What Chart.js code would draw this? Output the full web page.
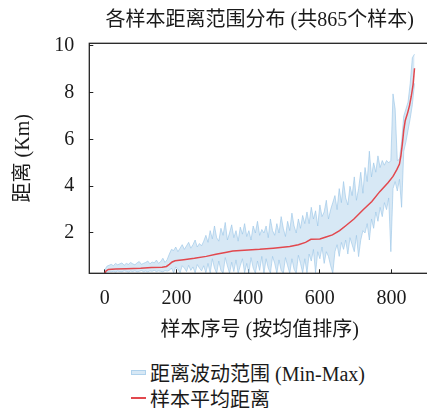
<!DOCTYPE html>
<html lang="zh">
<head>
<meta charset="UTF-8">
<title>各样本距离范围分布</title>
<script src="https://cdn.jsdelivr.net/npm/chart.js"></script>
<style>
    html, body { margin: 0; padding: 0; background: #fff; overflow: hidden; }
    #wrap { position: relative; width: 427px; height: 408px; overflow: hidden; }
    #chart { position: absolute; left: 0; top: 0; }
    #legend {
        position: absolute; left: 131px; top: 359px;
        font: 20px 'Liberation Serif', 'Noto Sans CJK SC', serif;
        color: #1a1a1a;
    }
    #legend .row { display: flex; align-items: center; height: 26px; white-space: nowrap; }
    #legend .mark { width: 15px; margin-right: 4px; }
</style>
</head>
<body>
<div id="wrap">
    <canvas id="chart" width="440" height="350"></canvas>
    <div id="legend"></div>
</div>
<script>
// tick labels
const xTicks = [0, 200, 400, 600, 800];
const yTicks = [2, 4, 6, 8, 10];

// mean distance per sample (sorted), read at these sample indices
const meanIdx = [0, 4, 10, 30, 60, 100, 130, 160, 172, 180, 188, 196, 220, 250, 283, 310, 340, 357,
    400, 432, 470, 516, 540, 560, 575, 600, 615, 635, 655, 673, 695, 720, 745, 767, 790, 804,
    815, 822, 826, 830, 834, 838, 845, 850, 855, 860, 864];
const meanVal = [0.29, 0.38, 0.44, 0.46, 0.47, 0.49, 0.52, 0.54, 0.57, 0.66, 0.76, 0.81, 0.86, 0.92, 1.00, 1.09, 1.18, 1.23,
    1.27, 1.30, 1.35, 1.42, 1.50, 1.60, 1.73, 1.74, 1.82, 1.92, 2.10, 2.32, 2.60, 2.98, 3.35, 3.77, 4.15, 4.42,
    4.72, 4.95, 5.30, 5.80, 6.40, 6.80, 7.15, 7.45, 7.85, 8.35, 9.05];

// min / max range, every 6th sample (0 .. 864)
const bandMax = [
    0.42, 0.58, 0.62, 0.66, 0.60, 0.70, 0.64, 0.68, 0.72, 0.62, 0.70, 0.66, 0.74, 0.68, 0.64, 0.72, 0.78, 0.66, 0.70, 0.74,
    0.80, 0.68, 0.76, 0.72, 0.84, 0.70, 0.78, 0.92, 0.74, 0.86,
    1.10, 1.30, 1.25, 1.40, 1.20, 1.35, 1.50, 1.30, 1.45, 1.60, 1.35, 1.50, 1.70, 1.40, 1.55, 1.45, 1.65,
    1.90, 1.60, 2.10, 1.75, 2.30, 1.80, 1.65, 2.20, 1.90, 2.45, 1.70, 2.00, 2.35, 1.80, 2.10, 1.65, 2.25, 1.95, 2.40, 1.85,
    2.10, 1.70, 2.30, 2.00, 2.50, 1.90, 2.15,
    2.00, 2.30, 1.80, 2.60, 2.10, 1.90, 2.40, 2.00, 2.70, 2.20, 1.85, 2.50, 2.10, 2.85, 2.30, 2.00, 2.60, 2.20, 2.75, 2.40,
    2.90, 2.40, 3.10, 2.60, 2.95, 2.30, 3.20, 2.70, 2.90, 3.40, 2.60, 3.00, 3.30,
    3.60, 3.00, 3.90, 3.30, 4.20, 3.50, 3.20, 4.00, 3.60, 4.40, 3.40, 3.90, 4.60, 3.70,
    4.80, 4.20, 5.50, 4.40, 5.00, 4.60, 5.30, 4.80, 5.10, 4.90, 5.10, 5.00, 5.10,
    7.95, 7.30, 5.10, 5.15, 5.90,
    7.00, 7.30, 7.60, 8.40, 9.50, 9.65
];
const bandMin = [
    0.28, 0.33, 0.35, 0.34, 0.36, 0.33, 0.37, 0.35, 0.34, 0.38, 0.36, 0.33, 0.37, 0.35, 0.38, 0.34, 0.36, 0.39, 0.35, 0.37,
    0.34, 0.38, 0.36, 0.40, 0.35, 0.38, 0.36, 0.34, 0.39, 0.37,
    0.40, 0.50, 0.30, 0.55, 0.45, 0.30, 0.60, 0.50, 0.35, 0.62, 0.40, 0.55, 0.30, 0.65, 0.50, 0.38, 0.60,
    0.30, 0.70, 0.28, 0.90, 0.50, 0.28, 0.80, 0.40, 0.28, 0.95, 0.60, 0.28, 0.75, 0.35, 0.85, 0.28, 0.60, 0.90, 0.30, 0.70,
    0.28, 0.95, 0.50, 0.28, 0.80, 0.40, 1.00,
    0.28, 0.90, 0.50, 0.28, 1.00, 0.70, 0.28, 0.85, 0.40, 0.28, 0.95, 0.60, 0.28, 0.90, 0.45, 0.28, 1.05, 0.70, 0.30, 0.90,
    0.30, 1.10, 0.80, 1.30, 0.30, 1.20, 0.90, 1.40, 0.70, 1.20, 1.00, 0.60, 0.28,
    1.20, 1.50, 1.00, 1.60, 1.30, 1.70, 1.10, 1.80, 1.50, 1.20, 1.90, 0.99, 1.70, 2.10,
    2.00, 2.40, 1.70, 2.60, 2.20, 2.90, 2.50, 3.10, 2.70, 3.30, 3.00, 3.50, 1.20,
    3.90, 4.20, 3.80, 4.30, 3.10,
    5.50, 5.90, 6.40, 6.90, 7.50, 8.40
];
const bandIdx = bandMax.map((_, i) => i * 6);

const FONT = "'Liberation Serif', 'Noto Sans CJK SC', serif";
const BAND_FILL = 'rgba(160, 200, 232, 0.42)';
const BAND_EDGE = 'rgba(150, 195, 230, 0.6)';
const MEAN_COLOR = '#e2484e';

Chart.defaults.font.family = FONT;
Chart.defaults.font.size = 20;
Chart.defaults.color = '#1a1a1a';

// box around the plot area
const framePlugin = {
    id: 'frame',
    afterDraw(chart) {
        const { ctx, chartArea: a } = chart;
        ctx.save();
        ctx.strokeStyle = '#222';
        ctx.lineWidth = 1.3;
        ctx.strokeRect(a.left, a.top, a.right - a.left, a.bottom - a.top);
        ctx.restore();
    }
};

const axisGrid = { drawOnChartArea: false, drawTicks: true, tickLength: -4, color: '#222', lineWidth: 1 };

new Chart(document.getElementById('chart'), {
    type: 'line',
    data: {
        datasets: [
            {
                label: '样本平均距离',
                data: meanIdx.map((x, i) => ({ x, y: meanVal[i] })),
                borderColor: MEAN_COLOR,
                borderWidth: 1.5,
                pointRadius: 0,
                fill: false
            },
            {
                label: '距离波动范围 (Min-Max)',
                data: bandIdx.map((x, i) => ({ x, y: bandMax[i] })),
                borderColor: BAND_EDGE,
                backgroundColor: BAND_FILL,
                borderWidth: 1,
                pointRadius: 0,
                fill: '+1'
            },
            {
                label: 'min',
                data: bandIdx.map((x, i) => ({ x, y: bandMin[i] })),
                borderColor: BAND_EDGE,
                borderWidth: 1,
                pointRadius: 0,
                fill: false
            }
        ]
    },
    options: {
        responsive: false,
        animation: false,
        devicePixelRatio: 1,
        layout: { padding: { left: 0, right: 10, top: 0, bottom: 0 } },
        plugins: {
            legend: { display: false },
            tooltip: { enabled: false },
            title: {
                display: true,
                fullSize: false,
                text: '各样本距离范围分布 (共865个样本)',
                font: { size: 20, weight: 'normal' },
                padding: { top: 9, bottom: 10.3 }
            }
        },
        scales: {
            x: {
                type: 'linear',
                min: -43.2,
                max: 907.2,
                afterBuildTicks: s => { s.ticks = xTicks.map(v => ({ value: v })); },
                afterFit: s => { s.height = 76.7; },
                ticks: { padding: 17, maxRotation: 0, autoSkip: false },
                grid: axisGrid,
                border: { display: false },
                title: { display: true, text: '样本序号 (按均值排序)', padding: { top: 0, bottom: 7 } }
            },
            y: {
                min: 0.276,
                max: 10.115,
                afterBuildTicks: s => { s.ticks = yTicks.map(v => ({ value: v })); },
                afterFit: s => { s.width = 89.3; },
                ticks: { padding: 19 },
                grid: axisGrid,
                border: { display: false },
                title: { display: true, text: '距离 (Km)', padding: { top: 12, bottom: 0 } }
            }
        }
    },
    plugins: [framePlugin]
});

// legend below the chart, left aligned like the reference
const legendItems = [
    { text: '距离波动范围 (Min-Max)', style: `height:5px;background:${BAND_FILL};border:1px solid ${BAND_EDGE};box-sizing:border-box;` },
    { text: '样本平均距离', style: `height:1.5px;background:${MEAN_COLOR};` }
];
document.getElementById('legend').innerHTML = legendItems.map(it =>
    `<div class="row"><span class="mark" style="${it.style}"></span><span>${it.text}</span></div>`
).join('');
</script>
</body>
</html>
